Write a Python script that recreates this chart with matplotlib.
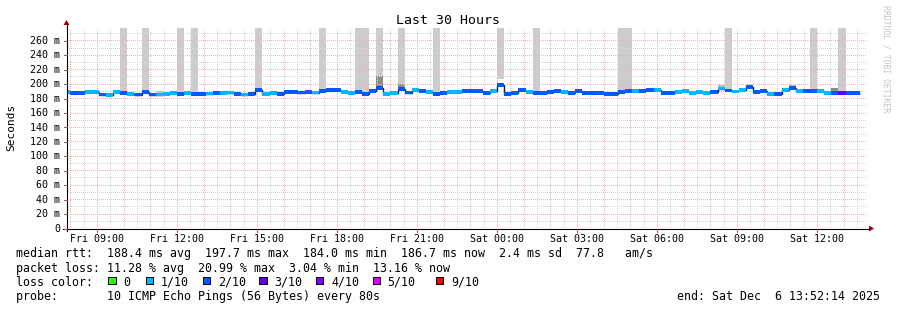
import matplotlib
matplotlib.use("Agg")
import matplotlib.pyplot as plt
from matplotlib.patches import Rectangle
import numpy as np

W, H = 897, 310
MONO = "DejaVu Sans Mono"

# --- data: one value per 16 min RRD step (first one is partial) ---
start_h = 7 + 52 / 60 + 14 / 3600      # Fri 07:52:14
end_h = start_h + 30
first_step_h = 8.0                     # first step boundary 08:00
step_h = 16 / 60

median = [188.5, 186.6, 186.6, 188.9, 188.9, 185.0, 184.0, 188.5, 186.6, 185.7,
          185.0, 188.5, 185.0, 185.0, 185.5, 187.1, 186.0, 187.6, 186.0, 186.2,
          186.4, 186.9, 186.6, 187.8, 186.0, 185.0, 186.0, 191.5, 186.2, 187.6,
          186.2, 188.5, 188.5, 187.8, 188.7, 187.8, 189.6, 191.5, 191.3, 188.5,
          186.6, 188.7, 185.5, 189.6, 193.6, 185.5, 187.3, 192.9, 187.8, 191.7,
          189.9, 188.0, 185.5, 187.1, 188.0, 188.5, 189.4, 189.9, 190.1, 186.9,
          189.4, 197.7, 185.7, 187.6, 191.5, 188.9, 187.1, 187.1, 188.5, 189.6,
          188.9, 187.6, 190.1, 186.9, 186.9, 186.9, 185.5, 185.5, 188.9, 190.1,
          190.3, 189.4, 191.7, 191.7, 187.3, 187.6, 188.9, 190.3, 187.6, 188.9,
          187.6, 188.0, 193.3, 190.6, 189.2, 191.7, 195.2, 188.0, 189.6, 185.7,
          185.7, 191.7, 194.3, 190.3, 190.1, 190.1, 190.3, 187.6, 187.6, 187.6,
          187.6, 186.7]
loss = [1, 2, 2, 1, 1, 2, 1, 1, 2, 1,
        2, 2, 2, 1, 1, 1, 2, 1, 2, 2,
        1, 2, 1, 1, 2, 1, 2, 2, 1, 1,
        2, 2, 2, 2, 2, 1, 2, 2, 2, 1,
        1, 2, 2, 2, 2, 1, 1, 2, 2, 1,
        2, 1, 2, 2, 1, 1, 2, 2, 2, 2,
        1, 2, 2, 2, 2, 1, 2, 2, 2, 2,
        1, 2, 2, 2, 2, 2, 2, 2, 2, 2,
        1, 2, 2, 1, 2, 2, 1, 1, 1, 1,
        1, 2, 1, 2, 1, 1, 2, 2, 2, 1,
        2, 1, 2, 1, 2, 2, 1, 1, 2, 3,
        2, 2]

# steps whose slowest ping went off the top of the graph
tall_steps = [8, 11, 16, 18, 27, 36, 41, 42, 44, 47, 52, 61, 66, 78, 79, 93, 105, 109]
tall_low = {61: 207.0}
# small light smoke above the median
smoke_steps = [4, 13, 92, 102]
smoke_top = [191.5, 189.5, 197.7, 198.6]
# darker (denser) smoke
dense_steps = [44, 47, 108]
dense_low = [196.0, 194.5, 189.5]
dense_top = [210.0, 200.0, 193.5]

loss_labels = ["0", "1/10", "2/10", "3/10", "4/10", "5/10", "9/10"]
loss_levels = [0, 1, 2, 3, 4, 5, 9]
loss_colors = ["#26ff00", "#00b8ff", "#0059ff", "#5e00ff", "#7e00ff", "#dd00ff", "#ff0000"]

tick_hours = [9, 12, 15, 18, 21, 24, 27, 30, 33, 36]
tick_labels = ["Fri 09:00", "Fri 12:00", "Fri 15:00", "Fri 18:00", "Fri 21:00",
               "Sat 00:00", "Sat 03:00", "Sat 06:00", "Sat 09:00", "Sat 12:00"]
ytick_vals = list(range(0, 261, 20))

ymax = 277.2

# --- figure ---
fig = plt.figure(figsize=(W / 100, H / 100), dpi=100)
ax = fig.add_axes([67 / W, (H - 228) / H, 800 / W, 200 / H])
ax.set_xlim(start_h, end_h)
ax.set_ylim(0, ymax)
for s in ax.spines.values():
    s.set_visible(False)
ax.set_xticks([])
ax.set_yticks([])

n = len(median)
edges = np.array([start_h] + [first_step_h + i * step_h for i in range(n)])
left = edges[:-1]
width = np.diff(edges)
med = np.array(median)

# smoke
for i in tall_steps:
    lo = tall_low.get(i, med[i])
    ax.bar(left[i], ymax + 10 - lo, width[i], bottom=lo, align="edge",
           color="#cccccc", linewidth=0, antialiased=False, zorder=1)
for i, t in zip(smoke_steps, smoke_top):
    ax.bar(left[i], t - med[i], width[i], bottom=med[i], align="edge",
           color="#bdbdbd", linewidth=0, antialiased=False, zorder=1)
for i, lo, hi in zip(dense_steps, dense_low, dense_top):
    ax.bar(left[i], hi - lo, width[i], bottom=lo, align="edge",
           color="#8c8c8c", linewidth=0, antialiased=False, zorder=1.1)

# grid (over smoke, under the median band), 1px dotted
dot = (0, (1, 1.4))
gkw = dict(lw=0.72, ls=dot, zorder=1.5, antialiased=False)
for h in np.arange(8.5, end_h, 1.0):
    ax.axvline(h, color="#d4d4d4", **gkw)
for h in np.arange(8, end_h, 1.0):
    ax.axvline(h, color="#f5b2b2", **gkw)
for v in np.arange(10, ymax, 20):
    ax.axhline(v, color="#d4d4d4", **gkw)
for v in ytick_vals[1:]:
    ax.axhline(v, color="#f5b2b2", **gkw)

# median line and loss coloured band
ax.stairs(med, edges, baseline=None, color="#202020", linewidth=1.0, zorder=2)
cmap = dict(zip(loss_levels, loss_colors))
sw = 2.6
ax.bar(left, 2 * sw, width, bottom=med - sw, align="edge",
       color=[cmap[l] for l in loss], linewidth=0, antialiased=False, zorder=3)

# tick labels
for h, lab in zip(tick_hours, tick_labels):
    ax.text(h, -13.5 / 200, lab, transform=ax.get_xaxis_transform(), ha="center",
            va="baseline", family=MONO, fontsize=7.2, clip_on=False)
for v in ytick_vals:
    lab = "0" if v == 0 else "%d m" % v
    ax.text(-7 / 800, v - 3.6 / 0.7215, lab, transform=ax.get_yaxis_transform(),
            ha="right", va="baseline", family=MONO, fontsize=7.2, clip_on=False)

# --- overlay in pixel coordinates ---
ov = fig.add_axes([0, 0, 1, 1])
ov.set_xlim(0, W)
ov.set_ylim(H, 0)
ov.axis("off")
ov.patch.set_alpha(0)

# axes with arrows
ov.plot([66.5, 66.5], [231, 25], color="black", lw=0.8)
ov.fill([63.5, 69.5, 66.5], [25, 25, 20], color="#a00000", lw=0)
ov.plot([63, 869], [228.5, 228.5], color="black", lw=0.8)
ov.fill([869, 869, 874], [225.5, 231.5, 228.5], color="#a00000", lw=0)
for v in ytick_vals:
    y = 228.5 - v * 0.7215
    ov.plot([63.5, 66.5], [y, y], color="#a05050", lw=0.7)
for h in tick_hours:
    x = 67 + (h - start_h) / 30 * 800
    ov.plot([x, x], [228.5, 231.5], color="#a05050", lw=0.7)

ov.text(448, 24, "Last 30 Hours", ha="center", va="baseline", family=MONO, fontsize=9.5)
ov.text(11, 127, "Seconds", rotation=90, ha="center", va="center", family=MONO, fontsize=8)
ov.text(886, 59, "RRDTOOL / TOBI OETIKER", rotation=270, ha="center", va="center",
        family=MONO, fontsize=5.9, color="#c4c4c4")

fs = 8.4
ov.text(16, 257.5, "median rtt:  188.4 ms avg  197.7 ms max  184.0 ms min  186.7 ms now  2.4 ms sd  77.8   am/s",
        va="baseline", family=MONO, fontsize=fs)
ov.text(16, 271.8, "packet loss: 11.28 % avg  20.99 % max  3.04 % min  13.16 % now",
        va="baseline", family=MONO, fontsize=fs)
ov.text(16, 285.8, "loss color:", va="baseline", family=MONO, fontsize=fs)
box_x = [108.3, 145.7, 202.7, 259.3, 316, 372.7, 436]
for bx, lab, c in zip(box_x, loss_labels, loss_colors):
    ov.add_patch(Rectangle((bx, 277), 7.4, 7.4, facecolor=c, edgecolor="black", lw=0.7))
    ov.text(bx + 15, 285.8, lab, va="baseline", family=MONO, fontsize=fs)
ov.text(16, 300.2, "probe:       10 ICMP Echo Pings (56 Bytes) every 80s",
        va="baseline", family=MONO, fontsize=fs)
ov.text(880, 300.2, "end: Sat Dec  6 13:52:14 2025", ha="right", va="baseline",
        family=MONO, fontsize=fs)

fig.savefig("out.png", dpi=100)
